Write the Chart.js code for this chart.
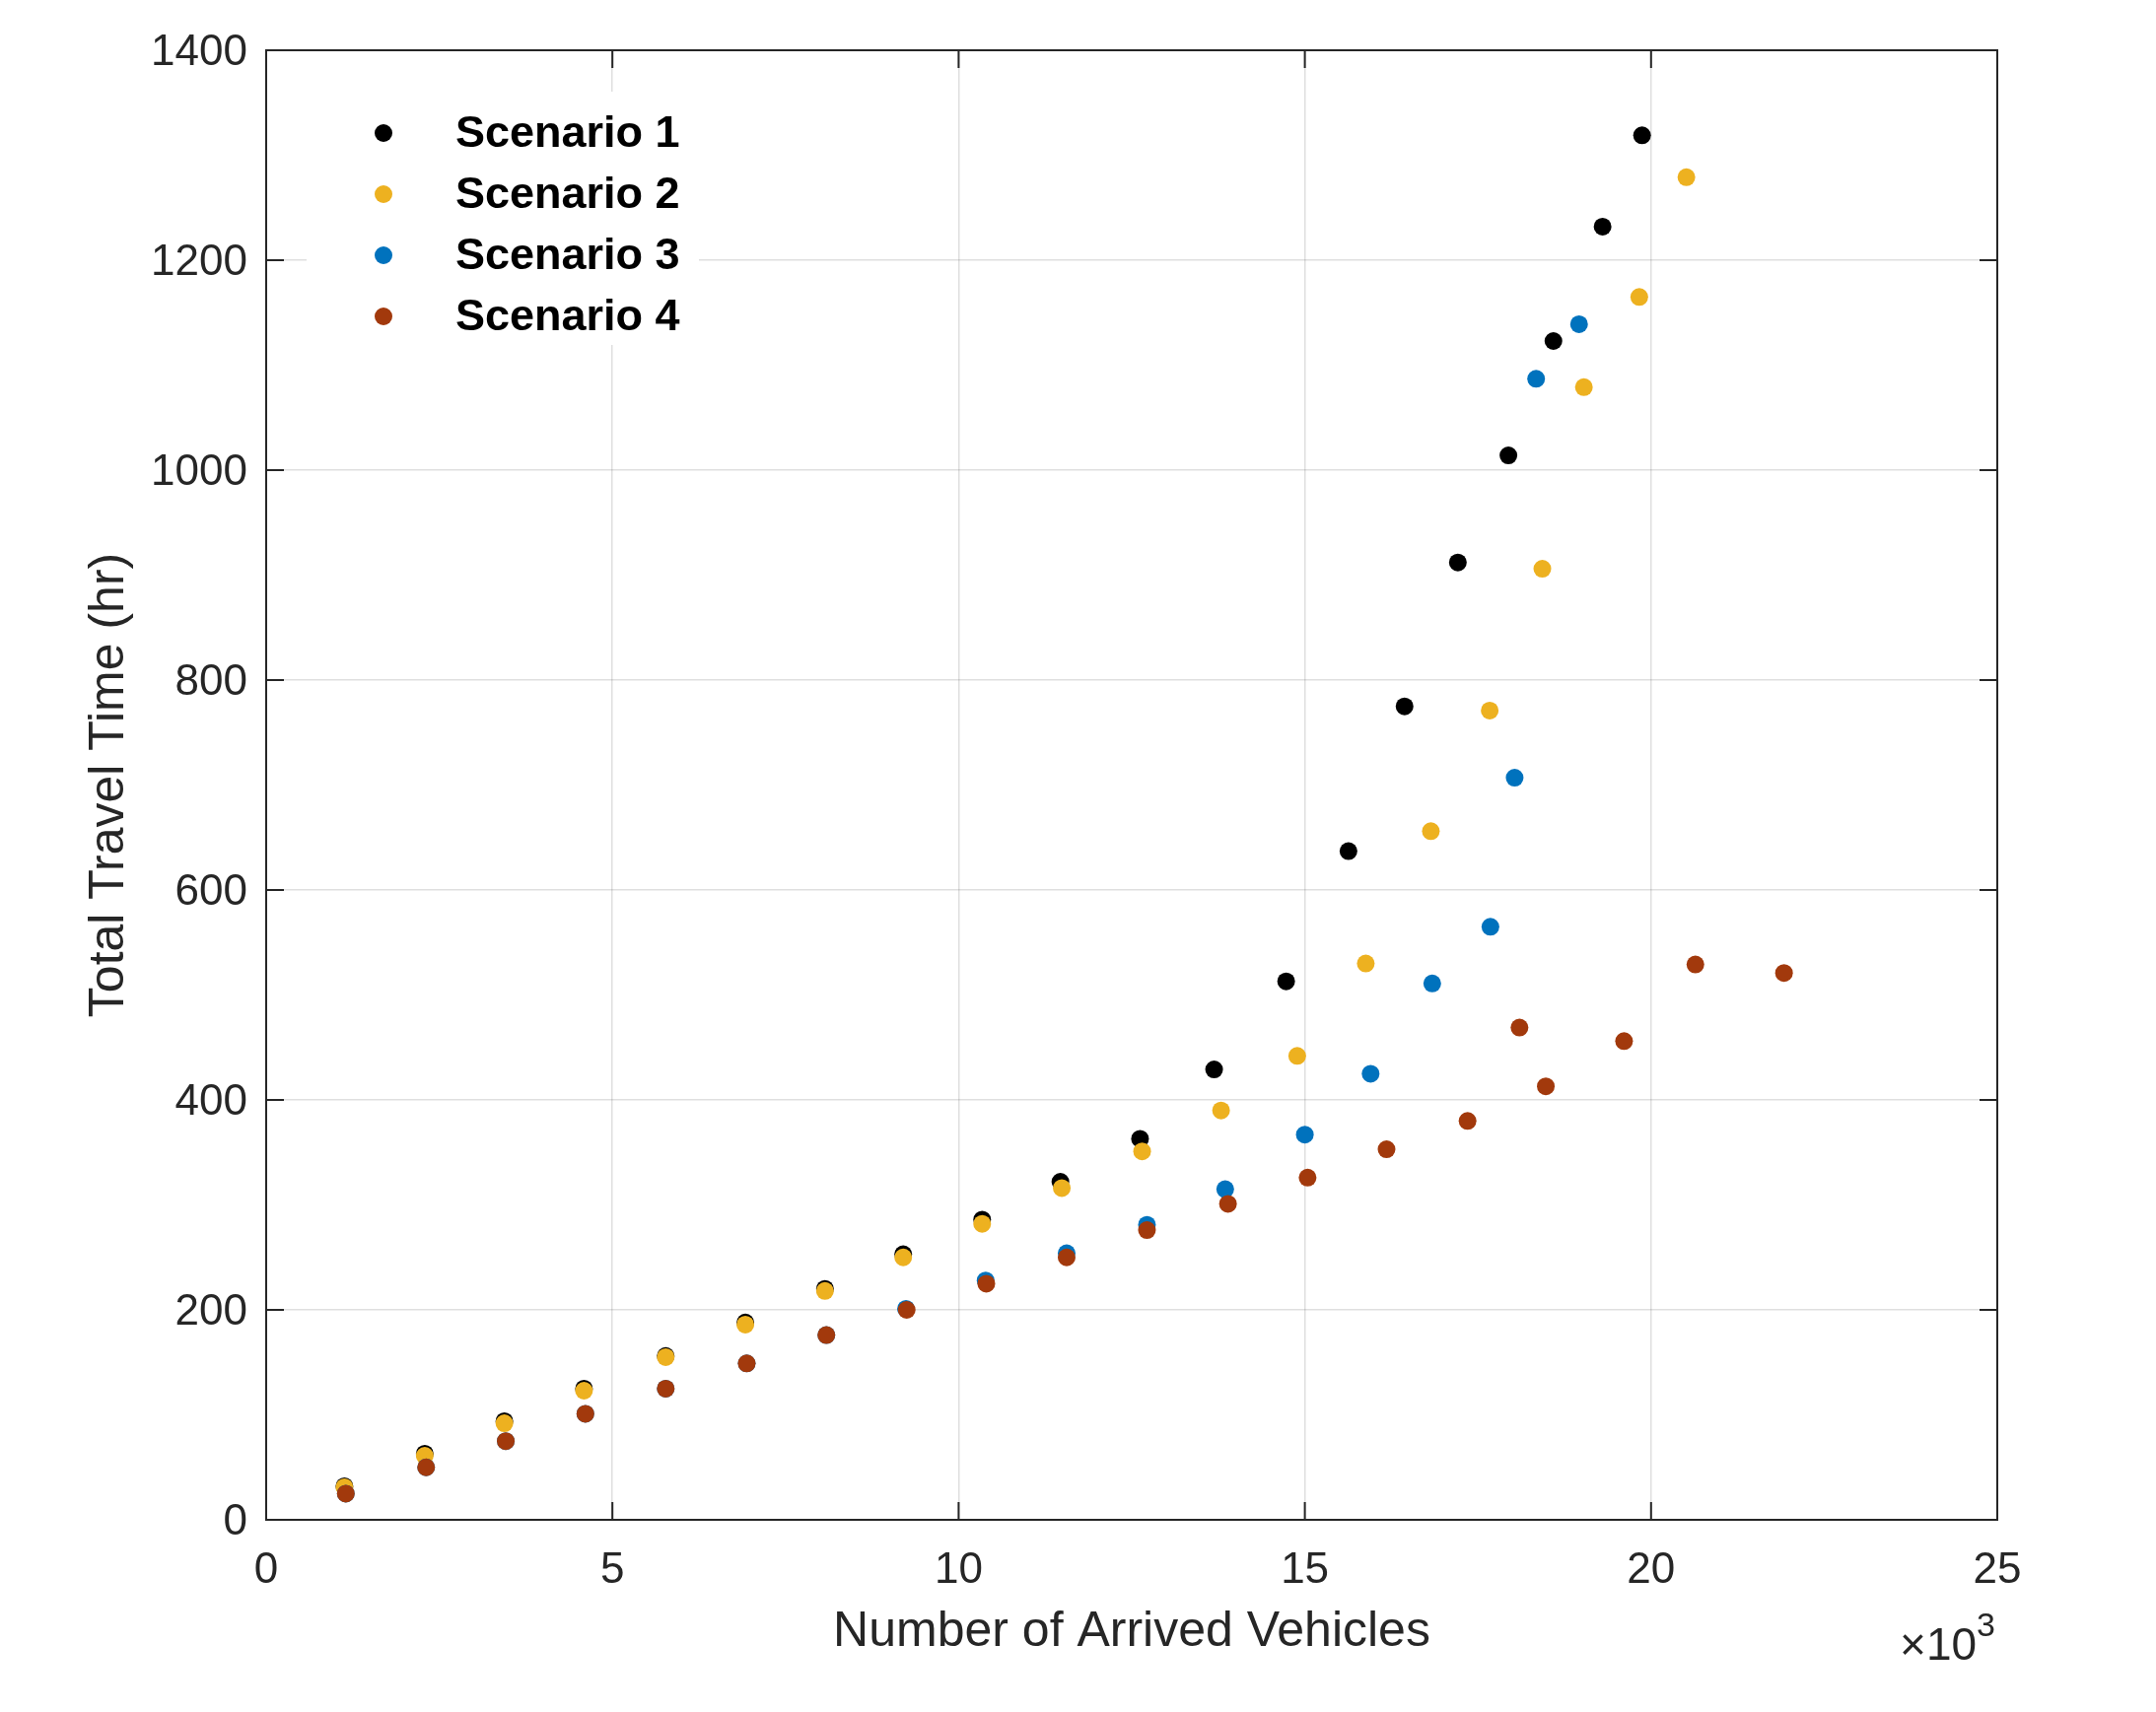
<!DOCTYPE html>
<html>
<head>
<meta charset="utf-8">
<script src="https://cdn.jsdelivr.net/npm/chart.js@4.4.1/dist/chart.umd.min.js"></script>
<style>
  html, body { margin: 0; padding: 0; background: #fff; }
  canvas { display: block; }
</style>
</head>
<body>
<canvas id="ttChart" width="2187" height="1737" style="width:2187px;height:1737px"></canvas>
<script>
// values (x = arrived vehicles, y = total travel time in hr)
const seriesNames = ["Scenario 1", "Scenario 2", "Scenario 3", "Scenario 4"];
const seriesColors = ["#000000", "#EDB120", "#0072BD", "#A2390C"];

const s1x = [1130, 2290, 3440, 4590, 5770, 6920, 8070, 9200, 10340, 11470, 12620, 13690, 14730, 15630, 16440, 17210, 17940, 18590, 19300, 19870];
const s1y = [32, 63, 94, 125, 156, 188, 220, 253, 286, 322, 363, 429, 513, 637, 775, 912, 1014, 1123, 1232, 1319];

const s2x = [1130, 2290, 3440, 4590, 5770, 6920, 8070, 9200, 10340, 11490, 12650, 13790, 14890, 15880, 16820, 17670, 18430, 19030, 19830, 20510];
const s2y = [31, 61, 92, 123, 155, 186, 218, 250, 282, 316, 351, 390, 442, 530, 656, 771, 906, 1079, 1165, 1279];

const s3x = [1150, 2310, 3460, 4610, 5770, 6940, 8090, 9240, 10390, 11560, 12720, 13850, 15000, 15950, 16840, 17680, 18030, 18340, 18960];
const s3y = [25, 50, 75, 101, 125, 149, 176, 201, 228, 254, 281, 315, 367, 425, 511, 565, 707, 1087, 1139];

const s4x = [1150, 2310, 3460, 4610, 5770, 6940, 8090, 9250, 10400, 11560, 12720, 13890, 15040, 16180, 17350, 18480, 18100, 19610, 20640, 21920];
const s4y = [25, 50, 75, 101, 125, 149, 176, 200, 225, 250, 276, 301, 326, 353, 380, 413, 469, 456, 529, 521];

const xTicks = [0, 5000, 10000, 15000, 20000, 25000];
const xTickLabels = ["0", "5", "10", "15", "20", "25"];
const yTicks = [0, 200, 400, 600, 800, 1000, 1200, 1400];
const yTickLabels = ["0", "200", "400", "600", "800", "1000", "1200", "1400"];

const FONT = "'Liberation Sans', Arial, Helvetica, sans-serif";
const AXIS_COLOR = "#262626";

function toPoints(xs, ys) {
  return xs.map((x, i) => ({ x: x, y: ys[i] }));
}

const allX = [s1x, s2x, s3x, s4x];
const allY = [s1y, s2y, s3y, s4y];

const datasets = seriesNames.map((name, i) => ({
  label: name,
  data: toPoints(allX[i], allY[i]),
  backgroundColor: seriesColors[i],
  borderWidth: 0,
  pointRadius: 9,
  pointHoverRadius: 9,
  order: seriesNames.length - i   // later scenarios drawn on top
}));

// box, inward ticks, legend and the exponent label, MATLAB style
const matlabAxes = {
  id: "matlabAxes",
  afterDraw(chart) {
    const ctx = chart.ctx;
    const a = chart.chartArea;
    const xs = chart.scales.x, ys = chart.scales.y;
    const tl = 18;
    ctx.save();
    ctx.strokeStyle = AXIS_COLOR;
    ctx.lineWidth = 2;
    ctx.beginPath();
    xTicks.forEach(v => {
      const px = xs.getPixelForValue(v);
      ctx.moveTo(px, a.bottom); ctx.lineTo(px, a.bottom - tl);
      ctx.moveTo(px, a.top); ctx.lineTo(px, a.top + tl);
    });
    yTicks.forEach(v => {
      const py = ys.getPixelForValue(v);
      ctx.moveTo(a.left, py); ctx.lineTo(a.left + tl, py);
      ctx.moveTo(a.right, py); ctx.lineTo(a.right - tl, py);
    });
    ctx.stroke();
    ctx.strokeRect(a.left, a.top, a.right - a.left, a.bottom - a.top);

    // legend (inside the axes, top left)
    ctx.fillStyle = "#ffffff";
    ctx.fillRect(a.left + 41, a.top + 42, 398, 257);
    ctx.font = "bold 45px " + FONT;
    ctx.textBaseline = "middle";
    ctx.textAlign = "left";
    seriesNames.forEach((name, i) => {
      const cy = a.top + 84 + i * 62;
      ctx.fillStyle = seriesColors[i];
      ctx.beginPath();
      ctx.arc(a.left + 119, cy, 9, 0, Math.PI * 2);
      ctx.fill();
      ctx.fillStyle = "#000000";
      ctx.fillText(name, a.left + 192, cy + 2);
    });

    // x10^3 multiplier
    ctx.fillStyle = AXIS_COLOR;
    ctx.textBaseline = "alphabetic";
    ctx.textAlign = "right";
    ctx.font = "34px " + FONT;
    const supW = ctx.measureText("3").width;
    ctx.fillText("3", a.right - 2, 1660);
    ctx.font = "46px " + FONT;
    ctx.fillText("\u00d710", a.right - 2 - supW, 1684);
    ctx.restore();
  }
};

const ctx = document.getElementById("ttChart").getContext("2d");
new Chart(ctx, {
  type: "scatter",
  data: { datasets: datasets },
  plugins: [matlabAxes],
  options: {
    responsive: false,
    devicePixelRatio: 1,
    animation: false,
    layout: { padding: { left: 0, top: 51, right: 161, bottom: 0 } },
    plugins: {
      legend: { display: false },
      tooltip: { enabled: false }
    },
    scales: {
      x: {
        type: "linear",
        min: 0,
        max: 25000,
        afterFit: s => { s.height = 195; },
        afterBuildTicks: s => { s.ticks = xTicks.map(v => ({ value: v })); },
        ticks: {
          color: AXIS_COLOR,
          font: { family: FONT, size: 44 },
          padding: 25,
          maxRotation: 0,
          callback: (v) => xTickLabels[xTicks.indexOf(v)]
        },
        grid: { color: "rgba(38,38,38,0.15)", lineWidth: 1.5, drawTicks: false },
        border: { display: false },
        title: {
          display: true,
          text: "Number of Arrived Vehicles",
          color: AXIS_COLOR,
          font: { family: FONT, size: 50 },
          padding: { top: 0, bottom: 51 }
        }
      },
      y: {
        type: "linear",
        min: 0,
        max: 1400,
        afterFit: s => { s.width = 270; },
        afterBuildTicks: s => { s.ticks = yTicks.map(v => ({ value: v })); },
        ticks: {
          color: AXIS_COLOR,
          font: { family: FONT, size: 44 },
          padding: 19,
          labelOffset: 3,
          callback: (v) => yTickLabels[yTicks.indexOf(v)]
        },
        grid: { color: "rgba(38,38,38,0.15)", lineWidth: 1.5, drawTicks: false },
        border: { display: false },
        title: {
          display: true,
          text: "Total Travel Time (hr)",
          color: AXIS_COLOR,
          font: { family: FONT, size: 50 },
          padding: { top: 81, bottom: 0 }
        }
      }
    }
  }
});
</script>
</body>
</html>
